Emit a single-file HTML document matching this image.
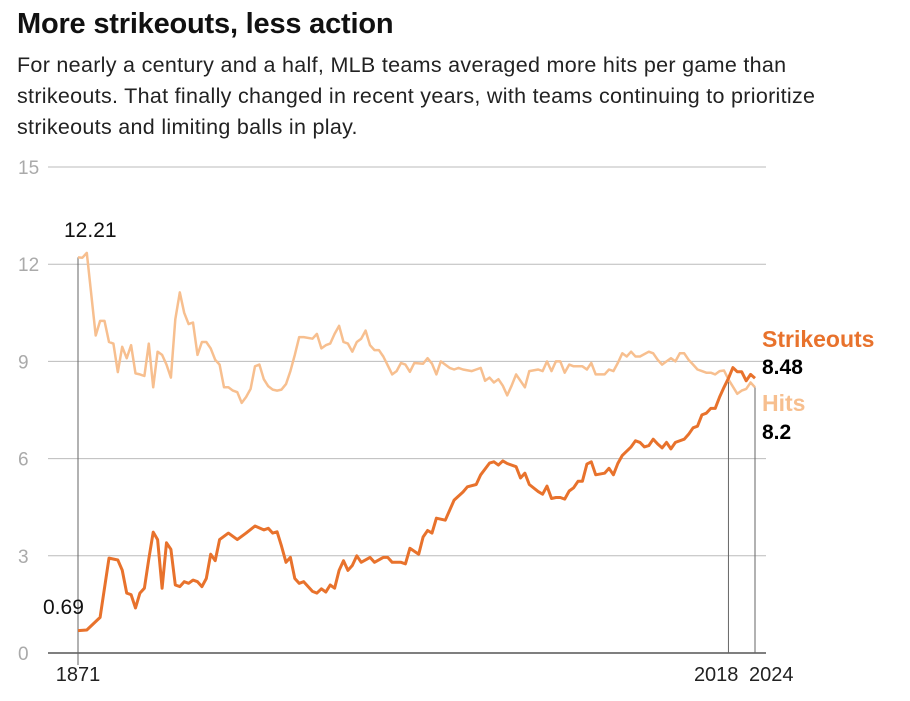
<!DOCTYPE html>
<html><head><meta charset="utf-8">
<style>
body{margin:0;background:#fff;width:910px;height:701px;overflow:hidden;font-family:"Liberation Sans",sans-serif;}
#title{position:absolute;left:17px;top:8px;font-size:29px;font-weight:bold;color:#111;letter-spacing:-0.2px;}
#sub{position:absolute;left:17px;top:50px;width:890px;font-size:21.5px;letter-spacing:0.3px;line-height:31px;color:#222;white-space:nowrap;}
svg{position:absolute;left:0;top:0;}
</style></head>
<body>
<div id="title">More strikeouts, less action</div>
<div id="sub">For nearly a century and a half, MLB teams averaged more hits per game than<br>strikeouts. That finally changed in recent years, with teams continuing to prioritize<br>strikeouts and limiting balls in play.</div>
<svg id="chart" width="910" height="701"></svg>
<script>
const yTicks=[0,3,6,9,12,15];
const xTickLabels=[1871,2018,2024];
const soYears=[1871,1873,1876,1878,1880,1881,1882,1883,1884,1885,1886,1887,1888,1889,1890,1891,1892,1893,1894,1895,1896,1897,1898,1899,1900,1901,1902,1903,1905,1907,1909,1911,1913,1914,1915,1916,1917,1918,1919,1920,1921,1922,1924,1925,1926,1927,1928,1929,1930,1931,1932,1933,1934,1935,1937,1938,1940,1941,1942,1944,1945,1946,1948,1949,1950,1951,1952,1954,1956,1958,1959,1961,1962,1964,1965,1966,1967,1968,1970,1971,1972,1973,1975,1976,1977,1978,1979,1980,1981,1982,1983,1984,1985,1986,1987,1988,1990,1991,1992,1993,1994,1996,1997,1998,1999,2000,2001,2002,2003,2004,2005,2006,2008,2009,2010,2011,2012,2013,2014,2015,2016,2017,2018,2019,2020,2021,2022,2023,2024];
const soVals=[0.69,0.71,1.1,2.93,2.87,2.56,1.85,1.8,1.39,1.85,2.0,2.9,3.73,3.5,2.0,3.4,3.2,2.1,2.05,2.2,2.15,2.25,2.2,2.05,2.3,3.05,2.85,3.5,3.7,3.5,3.7,3.92,3.8,3.85,3.7,3.74,3.3,2.8,2.95,2.3,2.15,2.2,1.9,1.85,1.98,1.88,2.1,2.0,2.55,2.85,2.55,2.7,3.0,2.8,2.95,2.8,2.95,2.95,2.8,2.8,2.75,3.23,3.05,3.58,3.78,3.7,4.16,4.1,4.72,4.97,5.13,5.2,5.5,5.86,5.9,5.8,5.93,5.85,5.75,5.4,5.55,5.2,4.98,4.9,5.15,4.77,4.8,4.8,4.75,5.0,5.1,5.3,5.3,5.83,5.9,5.5,5.55,5.7,5.5,5.85,6.1,6.36,6.55,6.5,6.36,6.4,6.6,6.45,6.33,6.5,6.3,6.5,6.6,6.75,6.95,7.0,7.35,7.4,7.55,7.55,7.9,8.2,8.48,8.81,8.68,8.68,8.4,8.6,8.48];
const hitYears=[1871,1872,1873,1875,1876,1877,1878,1879,1880,1881,1882,1883,1884,1885,1886,1887,1888,1889,1890,1891,1892,1893,1894,1895,1896,1897,1898,1899,1900,1901,1902,1903,1904,1905,1906,1907,1908,1909,1910,1911,1912,1913,1914,1915,1916,1917,1918,1919,1920,1921,1922,1924,1925,1926,1927,1928,1929,1930,1931,1932,1933,1934,1935,1936,1937,1938,1939,1940,1941,1942,1943,1944,1945,1946,1947,1949,1950,1951,1952,1953,1955,1956,1957,1958,1960,1961,1962,1963,1964,1965,1966,1967,1968,1969,1970,1972,1973,1975,1976,1977,1978,1979,1980,1981,1982,1983,1985,1986,1987,1988,1990,1991,1992,1993,1994,1995,1996,1997,1998,2000,2001,2002,2003,2004,2005,2006,2007,2008,2009,2010,2011,2012,2013,2014,2015,2016,2017,2018,2020,2021,2022,2023,2024];
const hitVals=[12.21,12.2,12.35,9.8,10.25,10.25,9.6,9.55,8.67,9.45,9.1,9.5,8.63,8.6,8.55,9.55,8.2,9.3,9.2,8.9,8.5,10.3,11.13,10.5,10.15,10.2,9.2,9.6,9.6,9.4,9.05,8.9,8.2,8.2,8.1,8.05,7.72,7.9,8.15,8.85,8.9,8.45,8.23,8.13,8.1,8.13,8.3,8.7,9.2,9.75,9.75,9.7,9.85,9.4,9.5,9.55,9.85,10.1,9.6,9.55,9.3,9.6,9.7,9.95,9.5,9.35,9.35,9.15,8.88,8.6,8.7,8.95,8.9,8.68,8.95,8.93,9.1,8.93,8.6,9.0,8.8,8.75,8.8,8.75,8.7,8.75,8.8,8.4,8.5,8.35,8.45,8.25,7.95,8.25,8.6,8.2,8.7,8.75,8.7,9.0,8.7,9.0,9.0,8.65,8.9,8.85,8.85,8.75,8.95,8.6,8.6,8.75,8.7,8.95,9.25,9.15,9.3,9.15,9.15,9.3,9.25,9.05,8.9,9.0,9.1,9.0,9.25,9.25,9.05,8.9,8.75,8.7,8.65,8.65,8.6,8.7,8.72,8.44,8.0,8.1,8.15,8.35,8.2];

const svg=document.getElementById('chart');
const NS='http://www.w3.org/2000/svg';
const X0=78,X1=755,Y0=653,Y15=167;
function xs(yr){return X0+(yr-1871)/(2024-1871)*(X1-X0);}
function ys(v){return Y0-(v/15)*(Y0-Y15);}
function mk(tag,attrs){const e=document.createElementNS(NS,tag);for(const k in attrs)e.setAttribute(k,attrs[k]);svg.appendChild(e);return e;}

yTicks.forEach(t=>{
  const l=mk('line',{x1:48,x2:766,y1:ys(t),y2:ys(t),stroke:t===0?'#555':'#bbb','stroke-width':t===0?1.5:1});
  
  
  const tx=mk('text',{x:18,y:ys(t)+7,'font-size':19,fill:'#aaa','font-family':'Liberation Sans, sans-serif'});
  tx.textContent=t;
  
  
});
const v1=mk('line',{x1:xs(1871),x2:xs(1871),y1:ys(12.21),y2:Y0+12,stroke:'#666','stroke-width':1});


const v2=mk('line',{x1:xs(2018),x2:xs(2018),y1:ys(8.48),y2:Y0,stroke:'#666','stroke-width':1});


const v3=mk('line',{x1:xs(2024),x2:xs(2024),y1:ys(8.2),y2:Y0,stroke:'#666','stroke-width':1});



function path(years,vals){return years.map((y,i)=>(i?'L':'M')+xs(y).toFixed(1)+','+ys(vals[i]).toFixed(1)).join(' ');}
const hp=mk('path',{d:path(hitYears,hitVals),fill:'none',stroke:'#f7bf8f','stroke-width':2.5,'stroke-linejoin':'round'});


const sp=mk('path',{d:path(soYears,soVals),fill:'none',stroke:'#e8722c','stroke-width':3,'stroke-linejoin':'round'});



xTickLabels.forEach(yr=>{
  const anchor=yr===1871?'middle':(yr===2018?'end':'start');
  const dx=yr===1871?0:(yr===2018?10:-6);
  const t=mk('text',{x:xs(yr)+dx,y:681,'font-size':20,fill:'#222','text-anchor':anchor,'font-family':'Liberation Sans, sans-serif'});
  t.textContent=yr;
  
  
});
function label(txt,x,y,size,fill,bold,name){
  const t=mk('text',{x:x,y:y,'font-size':size,fill:fill,'font-weight':bold?'bold':'normal','font-family':'Liberation Sans, sans-serif'});
  t.textContent=txt;
  
  
}
label('12.21',64,237,21,'#111',false,'start-hits-annotation');
label('0.69',43,614,21,'#111',false,'start-strikeouts-annotation');
label('Strikeouts',762,347,23,'#e8722c',true,'strikeouts-legend-label');
label('8.48',762,374,21,'#000',true,'strikeouts-end-value');
label('Hits',762,411,23,'#f7bf8f',true,'hits-legend-label');
label('8.2',762,439,21,'#000',true,'hits-end-value');
</script>
</body></html>
